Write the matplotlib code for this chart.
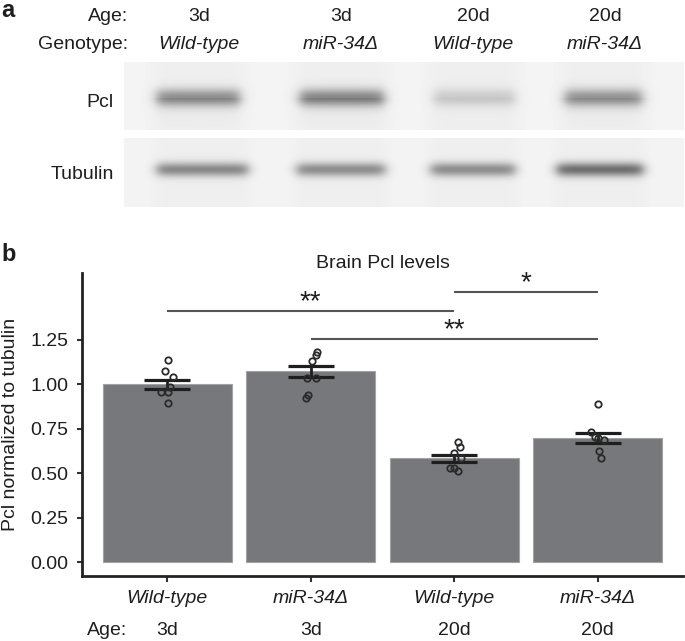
import numpy as np
import matplotlib
matplotlib.use('Agg')
import matplotlib.pyplot as plt

plt.rcParams['font.family'] = ['Liberation Sans', 'DejaVu Sans']

# ---------------- data ----------------
genotypes = ['Wild-type', 'miR-34Δ', 'Wild-type', 'miR-34Δ']
ages = ['3d', '3d', '20d', '20d']
means = [1.000, 1.073, 0.584, 0.697]
sems = [0.026, 0.031, 0.019, 0.029]
points = [
    [1.137, 1.075, 1.043, 0.987, 0.955, 0.955, 0.893],
    [1.181, 1.166, 1.132, 1.038, 1.038, 0.940, 0.923],
    [0.677, 0.646, 0.616, 0.584, 0.528, 0.528, 0.514],
    [0.888, 0.730, 0.706, 0.687, 0.700, 0.627, 0.584],
]
jitter = [
    [0.005, -0.014, 0.040, 0.020, -0.042, 0.005, 0.005],
    [0.047, 0.037, 0.012, -0.028, 0.035, -0.021, -0.035],
    [0.023, 0.037, -0.005, 0.047, -0.033, -0.005, 0.023],
    [0.000, -0.049, -0.021, 0.044, 0.000, 0.009, 0.021],
]
# significance comparisons: (group a, group b, label, height)
sig_a = [0, 2, 1]
sig_b = [2, 3, 3]
sig_lab = ['**', '*', '**']
sig_y = [1.413, 1.519, 1.254]

# western blot band intensities (relative darkness)
blot_rows = ['Pcl', 'Tubulin']
pcl_intensity = [0.37, 0.40, 0.14, 0.35]
tubulin_intensity = [0.40, 0.38, 0.38, 0.50]

W, H = 685, 641
fig = plt.figure(figsize=(W / 100, H / 100), dpi=100)

# ---------------- panel a (pixel coordinate overlay) ----------------
axa = fig.add_axes([0, 0, 1, 1], zorder=0)
axa.axis('off')
axa.patch.set_alpha(0)

FS = 14
TXT = '#1e1e1e'
axa.text(1.5, 17, 'a', fontsize=17, fontweight='bold', ha='left', va='baseline', color=TXT)
axa.text(128, 21, 'Age:', fontsize=FS, ha='right', va='baseline', color=TXT)
axa.text(128, 49, 'Genotype:', fontsize=FS, ha='right', va='baseline', color=TXT)
col_x = [199, 341, 473, 605]
for cx, ag, gt in zip(col_x, ages, genotypes):
    axa.text(cx, 21, ag, fontsize=FS, ha='center', va='baseline', color=TXT)
    axa.text(cx, 49, gt, fontsize=FS, ha='center', va='baseline', style='italic', color=TXT)

def smooth_box(x, x0, x1, s):
    return 0.25 * (1 + np.tanh((x - x0) / s)) * (1 + np.tanh((x1 - x) / s))

bx0, bx1 = 124, 684
xs = np.arange(bx0, bx1, 1.0) + 0.5
panels = [
    (pcl_intensity, [(157, 240), (300, 384), (434, 515), (565, 642)], 63, 130.5, 98.5, 6.2, True),
    (tubulin_intensity, [(157, 248), (297, 385), (431, 515), (557, 643)], 138, 207, 169.5, 5.0, False),
]
for inten, extents, y0, y1, yc, sig, smear in panels:
    ys = np.arange(y0, y1, 1.0) + 0.5
    X, Y = np.meshgrid(xs, ys)
    img = np.full(X.shape, 0.957)
    for a, (e0, e1) in zip(inten, extents):
        px = smooth_box(X, e0, e1, 6.5)
        py = np.exp(-0.5 * ((Y - yc) / sig) ** 2)
        img -= a * px * py
        # faint lane haze
        img -= 0.022 * smooth_box(X, e0 - 4, e1 + 4, 9.0)
        if smear:
            tail = np.where(Y > yc, np.exp(-(Y - yc) / 12.0), 0) * smooth_box(X, e0, e1, 7.0)
            img -= 0.07 * a / 0.4 * tail
    axa.imshow(img, cmap='gray', vmin=0, vmax=1, extent=(bx0, bx1, y1, y0),
               origin='upper', aspect='auto', interpolation='bilinear')
axa.set_xlim(0, W)
axa.set_ylim(H, 0)
axa.text(114, 107, blot_rows[0], fontsize=FS, ha='right', va='baseline', color=TXT)
axa.text(114, 179, blot_rows[1], fontsize=FS, ha='right', va='baseline', color=TXT)
axa.text(1.5, 261, 'b', fontsize=17, fontweight='bold', ha='left', va='baseline', color=TXT)

# ---------------- panel b ----------------
left, right, top, bottom = 82, 683, 273, 576
ax = fig.add_axes([left / W, 1 - bottom / H, (right - left) / W, (bottom - top) / H], zorder=1)
ax.patch.set_alpha(0)
x = np.arange(len(means))
ax.bar(x, means, width=0.9, color='#77787b', edgecolor='#a3a3a5', linewidth=0.8, zorder=1)
ax.errorbar(x, means, yerr=sems, fmt='none', ecolor='#1e1e1e', elinewidth=2.0,
            capsize=16.5, capthick=2.3, zorder=3)
for i in range(len(means)):
    ax.plot(x[i] + np.array(jitter[i]), points[i], 'o', mfc='none', mec='#2a2a2a',
            ms=4.6, mew=1.3, zorder=4)

for a, b, lab, yy in zip(sig_a, sig_b, sig_lab, sig_y):
    ax.plot([a, b], [yy, yy], color='#555555', lw=1.5, solid_capstyle='butt', zorder=2)
    ax.text((a + b) / 2, yy + 0.012, lab, fontsize=20, ha='center', va='baseline', color=TXT)

ax.set_xlim(-0.593, 3.593)
ax.set_ylim(-0.0788, 1.627)
ax.set_yticks([0, 0.25, 0.5, 0.75, 1.0, 1.25])
ax.set_yticklabels(['0.00', '0.25', '0.50', '0.75', '1.00', '1.25'])
ax.set_xticks(x)
ax.set_xticklabels(genotypes, style='italic')
for s in ['top', 'right']:
    ax.spines[s].set_visible(False)
for s in ['left', 'bottom']:
    ax.spines[s].set_linewidth(2.0)
    ax.spines[s].set_color('#222222')
ax.tick_params(axis='y', length=3.6, width=1.5, color='#333333', pad=6.3, labelsize=FS, labelcolor=TXT)
ax.tick_params(axis='x', length=4.3, width=1.5, color='#333333', pad=5.6, labelsize=FS, labelcolor=TXT)

ax.text(0.5, (bottom - 268) / (bottom - top), 'Brain Pcl levels', transform=ax.transAxes,
        fontsize=FS, ha='center', va='baseline', color=TXT)
ax.set_ylabel('Pcl normalized to tubulin', fontsize=FS, color=TXT)
ax.yaxis.set_label_coords((19 - left) / (right - left), 0.5)

age_y = (bottom - 635) / (bottom - top)
ax.text((87 - left) / (right - left), age_y, 'Age:', transform=ax.transAxes,
        fontsize=FS, ha='left', va='baseline', color=TXT)
for i, ag in enumerate(ages):
    ax.text(x[i], age_y, ag, transform=ax.get_xaxis_transform(), fontsize=FS,
            ha='center', va='baseline', color=TXT)

fig.savefig('out.png', dpi=100)
